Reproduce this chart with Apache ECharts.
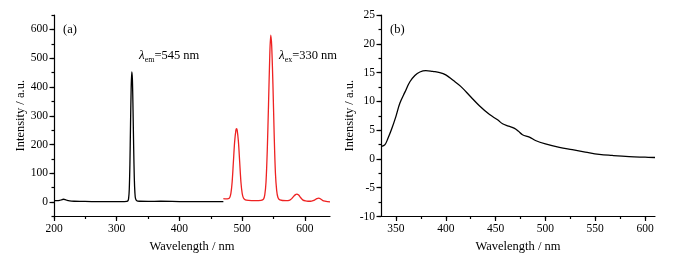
<!DOCTYPE html>
<html>
<head>
<meta charset="utf-8">
<script src="https://cdn.jsdelivr.net/npm/echarts@6/dist/echarts.min.js"></script>
<style>html,body{margin:0;padding:0;background:#fff}#c{width:692px;height:258px}</style>
</head>
<body>
<div id="c"></div>
<script>
// (a) excitation spectrum (black), [wavelength nm, intensity]
const excitation = [
  [200,5],[205,5],[209,6],[212,8],[215,10],[218,9],[221,6],[225,4],[232,3],[245,2.5],[260,2],[280,2],[300,2],[312,2],[316,2.5],
  [318,5],[319,14],[320,45],[321,130],[322,270],[323,395],[324,452],[325,425],[326,320],[327,190],[328,85],[329,32],[330,12],[332,5],[336,3],
  [350,2.5],[370,3],[400,2],[430,1.5],[450,1.5],[470,1.5]
];
// (a) emission spectrum (red)
const emission = [
  [470,12],[474,11],[478,12],[480,15],[482,30],[484,70],[486,140],[488,210],[490,250],[491,255],[492,250],[494,210],[496,140],[498,70],
  [500,30],[502,14],[505,8],[510,6],[520,5],[530,6],[534,10],[536,25],[538,70],[540,180],[542,340],[544,510],[545.5,580],[547,545],
  [549,410],[551,235],[553,100],[555,40],[557,16],[560,8],[570,5],[576,7],[579,12],[582,20],[585,26],[587,28],[590,25],[593,16],
  [597,7],[601,4],[605,3],[609,3],[613,5],[616,8],[619,12],[622,14],[625,11],[628,6],[632,3],[636,1.5],[640,1]
];
// (b) spectrum
const spectrumB = [
  [335.5,2.2],[339,2.5],[342,3.6],[345.5,5.1],[350,7.4],[354,9.7],[359,11.6],[364,13.4],[369,14.5],[374,15.1],[380,15.35],[387,15.2],
  [394,15.0],[400,14.6],[407,13.7],[415,12.6],[425,10.8],[434,9.2],[444,7.7],[452,6.8],[457,6.1],[463,5.7],[469,5.3],[473,4.8],[477,4.2],
  [484,3.8],[490,3.2],[500,2.6],[514,2.0],[527,1.6],[540,1.2],[554,0.8],[567,0.6],[584,0.4],[600,0.3],[610,0.25]
];
// tick values
const aXMinor = [200,250,300,350,400,450,500,550,600];
const aXMajor = [200,300,400,500,600];
const aYMinor = [-50,0,50,100,150,200,250,300,350,400,450,500,550,600,650];
const aYMajor = [0,100,200,300,400,500,600];
const bXMinor = [350,375,400,425,450,475,500,525,550,575,600];
const bXMajor = [350,400,450,500,550,600];
const bYMinor = [-10,-7.5,-5,-2.5,0,2.5,5,7.5,10,12.5,15,17.5,20,22.5,25];
const bYMajor = [-10,-5,0,5,10,15,20,25];

const FONT = '"Liberation Serif", "DejaVu Serif", serif';
const lineStyle = {color:'#000', width:1.2};

function xAx(grid, min, max, minor, major) {
  return [
    {type:'value', gridIndex:grid, min:min, max:max, position:'bottom',
     name: 'Wavelength / nm', nameLocation:'middle', nameGap:23.5,
     nameTextStyle:{fontFamily:FONT, fontSize:12.5, color:'#000'},
     axisLine:{show:true, onZero:false, lineStyle:lineStyle},
     axisTick:{show:true, customValues:minor, length:2.5, lineStyle:lineStyle},
     axisLabel:{customValues:major, fontFamily:FONT, fontSize:11.5, color:'#000', margin:6.5},
     splitLine:{show:false}},
    {type:'value', gridIndex:grid, min:min, max:max, position:'bottom',
     axisLine:{show:false, onZero:false},
     axisTick:{show:true, customValues:major, length:4.5, lineStyle:lineStyle},
     axisLabel:{show:false}, splitLine:{show:false}}
  ];
}
function yAx(grid, min, max, minor, major, gap) {
  return [
    {type:'value', gridIndex:grid, min:min, max:max, position:'left',
     name: 'Intensity / a.u.', nameLocation:'middle', nameGap:gap, nameRotate:90,
     nameTextStyle:{fontFamily:FONT, fontSize:12.5, color:'#000'},
     axisLine:{show:true, onZero:false, lineStyle:lineStyle},
     axisTick:{show:true, customValues:minor, length:2.5, lineStyle:lineStyle},
     axisLabel:{customValues:major, fontFamily:FONT, fontSize:11.5, color:'#000', margin:6},
     splitLine:{show:false}},
    {type:'value', gridIndex:grid, min:min, max:max, position:'left',
     axisLine:{show:false, onZero:false},
     axisTick:{show:true, customValues:major, length:4.5, lineStyle:lineStyle},
     axisLabel:{show:false}, splitLine:{show:false}}
  ];
}

const chart = echarts.init(document.getElementById('c'), null, {renderer:'canvas'});
const rich = {
  l:{fontFamily:FONT, fontSize:13, fontStyle:'italic', color:'#000', verticalAlign:'bottom'},
  s:{fontFamily:FONT, fontSize:8, color:'#000', verticalAlign:'bottom', padding:[0,0,-2,0]},
  n:{fontFamily:FONT, fontSize:12.5, color:'#000', verticalAlign:'bottom'}
};
chart.setOption({
  animation:false,
  backgroundColor:'#fff',
  grid:[
    {left:54, right:362, top:15, bottom:41},
    {left:381, right:37, top:15, bottom:41}
  ],
  xAxis:[].concat(xAx(0,200,640,aXMinor,aXMajor), xAx(1,335,610,bXMinor,bXMajor)),
  yAxis:[].concat(yAx(0,-50,650,aYMinor,aYMajor,27), yAx(1,-10,25,bYMinor,bYMajor,25)),
  series:[
    {type:'line', xAxisIndex:0, yAxisIndex:0, data:excitation, showSymbol:false, smooth:0.3,
     lineStyle:{color:'#000', width:1.3}},
    {type:'line', xAxisIndex:0, yAxisIndex:0, data:emission, showSymbol:false, smooth:0.3,
     lineStyle:{color:'#ee2222', width:1.3}},
    {type:'line', xAxisIndex:2, yAxisIndex:2, data:spectrumB, showSymbol:false, smooth:0.4,
     lineStyle:{color:'#000', width:1.3}}
  ],
  graphic:[
    {type:'text', left:63, top:23, style:{text:'(a)', font:'12.5px '+FONT, fill:'#000'}},
    {type:'text', left:390, top:23, style:{text:'(b)', font:'12.5px '+FONT, fill:'#000'}},
    {type:'text', left:139, top:49, style:{text:'{l|λ}{s|em}{n|=545 nm}', rich:rich}},
    {type:'text', left:279, top:49, style:{text:'{l|λ}{s|ex}{n|=330 nm}', rich:rich}}
  ]
});
</script>
</body>
</html>
